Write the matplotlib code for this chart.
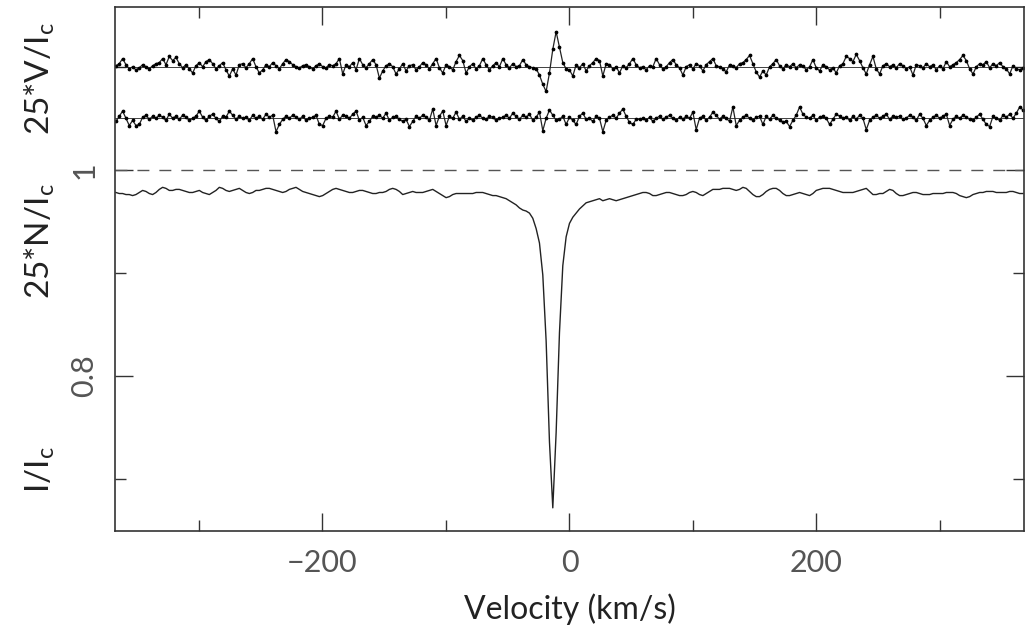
#!/usr/bin/env python3
"""
LSD Stokes profile plot: I/Ic, 25*N/Ic and 25*V/Ic against velocity
"""

import numpy as np
import matplotlib
matplotlib.use("Agg")
import matplotlib.pyplot as plt
from matplotlib.ticker import MultipleLocator

plt.rcParams['font.family'] = ['Lato', 'DejaVu Sans']
plt.rcParams['mathtext.default'] = 'regular'

# velocity grid of the LSD profile (km/s), 2.7 km/s step
v_start, v_step, n_pix = -367.2, 2.7, 273

# Stokes I / Ic, in units of 1e-3
stokes_i = [
    978, 977, 977, 976, 976, 975, 976, 978, 980, 979, 977, 976, 978,
    981, 983, 982, 980, 980, 981, 981, 980, 979, 978, 978, 979, 980,
    978, 977, 976, 978, 980, 983, 982, 980, 979, 980, 981, 982, 980,
    978, 977, 978, 980, 980, 981, 982, 982, 981, 980, 979, 978, 979,
    981, 982, 983, 981, 979, 978, 977, 976, 975, 974, 975, 977, 979,
    981, 982, 981, 980, 979, 978, 978, 979, 980, 980, 979, 978, 977,
    977, 978, 978, 979, 981, 982, 981, 979, 976, 977, 978, 979, 978,
    978, 978, 979, 980, 981, 979, 977, 975, 973, 974, 976, 977, 977,
    977, 977, 977, 977, 978, 978, 978, 977, 976, 975, 975, 974, 973,
    972, 970, 968, 966, 963, 961, 960, 958, 953, 943, 929, 898, 834,
    736, 672, 745, 842, 907, 935, 948, 954, 958, 962, 965, 968, 969,
    970, 971, 972, 970, 971, 972, 971, 970, 971, 972, 973, 974, 975,
    976, 977, 978, 978, 977, 975, 975, 976, 977, 978, 978, 977, 976,
    975, 975, 976, 978, 979, 978, 976, 975, 977, 979, 981, 981, 981,
    982, 982, 982, 981, 980, 981, 983, 982, 979, 976, 974, 974, 976,
    979, 981, 982, 982, 980, 977, 975, 975, 976, 977, 978, 977, 976,
    975, 977, 980, 981, 982, 982, 982, 981, 980, 979, 978, 978, 978,
    978, 979, 980, 981, 982, 979, 976, 976, 977, 977, 979, 981, 980,
    977, 975, 975, 976, 977, 978, 978, 977, 976, 976, 976, 977, 977,
    977, 977, 978, 978, 978, 977, 975, 974, 973, 974, 976, 977, 978,
    978, 979, 979, 979, 978, 978, 978, 978, 979, 979, 978, 977, 977,
]

# 25*V / Ic, in units of 1e-3 around its zero level
stokes_v = [
    1, 3, 8, 2, -2, 0, -3, -1, 2, 0, -2, 1, 3,
    4, 8, 2, 10, 6, 9, 3, -1, 2, -2, -6, 1, 4,
    0, 5, 7, 3, -2, 1, 4, -3, -9, -2, -8, 2, 3,
    -1, 3, 8, 0, -6, -3, 2, 0, 4, 1, -2, 3, 7,
    5, 2, 0, -1, 1, 2, 0, -2, 1, 3, 0, -1, 2,
    1, 3, 8, -7, 2, 0, 4, -3, 8, 2, -1, 3, 7,
    2, -11, -4, 1, 3, 0, -7, -2, 3, -4, 1, 2, -3,
    0, 4, 2, -2, 3, 8, -1, -6, 2, 0, -3, 5, 11,
    6, -6, 0, 3, -2, 1, 8, 2, -3, 1, 4, 0, 8,
    2, -1, 3, 0, 1, 7, 2, 0, -1, -2, -8, -17, -24,
    -6, 17, 34, 19, 4, -2, -3, -9, 2, -1, 3, -4, 1,
    4, 8, 6, -9, 3, 2, -2, 0, -6, 1, -1, 3, 8,
    2, -1, 0, -3, 1, 0, 8, 2, -2, 0, 4, 7, 2,
    -1, -8, 0, 2, -2, 3, 1, -4, 2, 5, 8, 1, 0,
    -2, -5, 2, 1, -1, 3, 4, 7, 11, 3, -5, -10, -4,
    -8, 0, 3, 7, 1, -2, 2, 0, 3, -1, 2, 1, -3,
    0, 7, -1, -4, 2, 0, -3, -1, -6, 1, 3, 10, 8,
    5, 12, 6, -1, -7, 2, 10, -2, -7, 1, 3, 0, 2,
    -1, 3, 1, -2, 0, -8, 2, 1, -1, 3, 0, 2, -3,
    1, -2, 5, 0, 2, 4, 7, 11, 6, -2, -7, 0, 3,
    2, 5, -1, 3, 1, 4, 0, -2, -7, 1, -2, -3, -1,
]

# 25*N / Ic, in units of 1e-3 around its zero level
stokes_n = [
    -3, 2, 7, 0, -7, -2, -7, -6, 1, 3, -1, 2, 0,
    3, 1, -2, 4, 0, 2, -1, 3, 1, -2, 0, 2, 7,
    1, -2, 2, 4, 0, -3, 2, 1, 7, 3, -1, 2, 0,
    1, -2, 3, 0, 2, -1, 4, 1, 3, -13, -6, -1, 2,
    0, 3, 1, -1, 2, -2, 0, 1, 3, -6, -7, 0, 2,
    1, 7, -1, 3, 2, 0, 4, 7, -2, 1, -7, -3, 2,
    1, 3, 0, 5, -2, 1, 2, -1, -3, -1, -8, -3, 2,
    0, 3, 1, -2, 9, -7, 2, 7, -7, 2, 0, 6, -1,
    2, -3, 0, -2, 1, 3, 0, -1, 2, 1, -2, 0, 1,
    3, 0, 5, 2, -1, 3, 1, 4, -2, 1, 6, -12, 0,
    8, 3, -2, -1, 2, -6, 1, -2, -6, 2, 5, -1, 0,
    -3, 2, 0, -13, -2, 1, 3, 0, 5, 9, 2, -4, -6,
    -1, -1, 0, -2, 1, -3, 0, 2, -1, 1, 3, 0, -2,
    1, -1, 2, 0, 6, -11, 0, 2, -2, 1, 6, 3, -1,
    2, 0, -3, 11, -7, -2, 1, 3, 0, -2, 1, 2, -6,
    2, -1, 3, 0, -2, -4, -3, -8, -2, 3, 11, 4, 1,
    0, 3, -2, 1, 2, 0, -6, -1, 4, 2, 0, 1, -2,
    2, -1, 3, 0, -11, -2, 1, 3, 0, 2, 4, -1, 2,
    1, 2, -1, 0, 3, 1, -2, 4, 0, -7, -2, 1, 3,
    0, 2, 4, -7, -1, 2, 0, 3, 1, -1, -2, 1, 4,
    -1, -6, -8, 2, 0, -2, 3, 1, 4, 0, 5, 11, 8,
]

# vertical offsets at which V and N are drawn
v_offset, n_offset = 1.10, 1.05


def plot_lsd():
    vel = v_start + v_step * np.arange(n_pix)
    ic = np.array(stokes_i) / 1000.0
    vv = v_offset + np.array(stokes_v) / 1000.0
    nn = n_offset + np.array(stokes_n) / 1000.0

    fig = plt.figure(figsize=(10.31, 6.30), dpi=100)
    ax = fig.add_axes([0.1115, 0.1571, 0.8817, 0.8318])

    fg = '#222222'
    # zero levels and continuum
    ax.axhline(v_offset, color=fg, lw=0.6)
    ax.axhline(n_offset, color=fg, lw=0.6)
    ax.axhline(1.0, color='#555555', lw=1.0, ls=(0, (8.6, 7.2)))

    for prof in (vv, nn):
        ax.plot(vel, prof, color=fg, lw=0.9)
        ax.plot(vel, prof, ls='none', marker='o', ms=1.7, color='black')
    ax.plot(vel, ic, color=fg, lw=1.0)

    ax.set_xlim(-368, 368)
    ax.set_ylim(0.6495, 1.158)

    ax.xaxis.set_major_locator(MultipleLocator(200))
    ax.xaxis.set_minor_locator(MultipleLocator(100))
    ax.yaxis.set_major_locator(MultipleLocator(0.2))
    ax.yaxis.set_minor_locator(MultipleLocator(0.1))
    ax.tick_params(which='both', direction='in', top=True, right=True,
                   color='#333333', width=1.0)
    ax.tick_params(which='major', length=13, labelsize=22,
                   labelcolor='#555555')
    ax.tick_params(which='minor', length=8)
    ax.tick_params(axis='x', pad=13)
    ax.tick_params(axis='y', pad=12)
    ax.set_yticks([0.8, 1.0])
    ax.set_yticklabels(['0.8', '1'], rotation=90, va='center')
    ax.set_xticks([-200, 0, 200])
    ax.set_xticklabels(['\u2212200', '0', '200'])
    for s in ax.spines.values():
        s.set_color('#333333')
        s.set_linewidth(1.2)

    ax.set_xlabel('Velocity (km/s)', fontsize=23, color=fg, labelpad=12)

    # three stacked y labels
    fig.text(0.039, 0.254, 'I/I$_c$', rotation=90, ha='center', va='center',
             fontsize=24, color=fg)
    fig.text(0.039, 0.617, '25*N/I$_c$', rotation=90, ha='center',
             va='center', fontsize=24, color=fg)
    fig.text(0.039, 0.876, '25*V/I$_c$', rotation=90, ha='center',
             va='center', fontsize=24, color=fg)

    fig.savefig('out.png', dpi=100)


if __name__ == "__main__":
    plot_lsd()
